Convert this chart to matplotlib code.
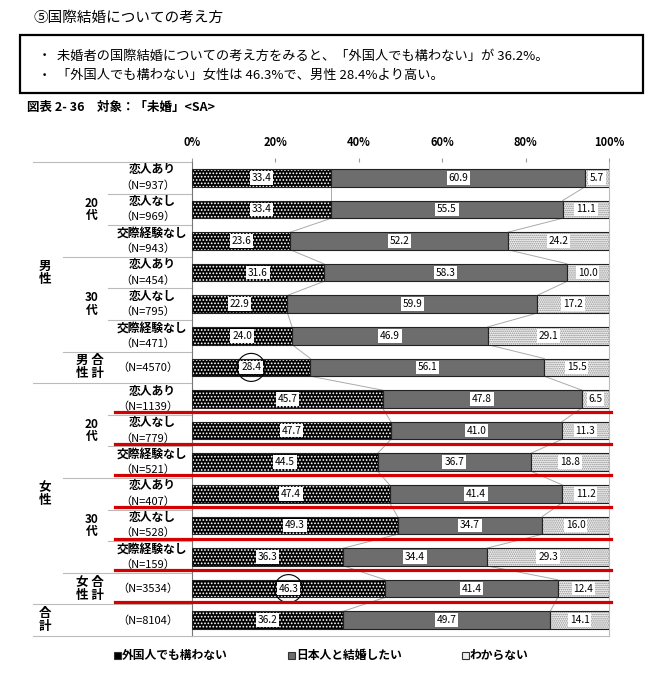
import numpy as np
import matplotlib
matplotlib.use("Agg")
import matplotlib.pyplot as plt
from matplotlib.patches import Rectangle, Ellipse

plt.rcParams['font.family'] = ['Noto Sans CJK JP', 'DejaVu Sans']
plt.rcParams['hatch.linewidth'] = 0.8

# data
series = ["外国人でも構わない", "日本人と結婚したい", "わからない"]
foreign_ok = [33.4, 33.4, 23.6, 31.6, 22.9, 24.0, 28.4, 45.7, 47.7, 44.5, 47.4, 49.3, 36.3, 46.3, 36.2]
japanese = [60.9, 55.5, 52.2, 58.3, 59.9, 46.9, 56.1, 47.8, 41.0, 36.7, 41.4, 34.7, 34.4, 41.4, 49.7]
unknown = [5.7, 11.1, 24.2, 10.0, 17.2, 29.1, 15.5, 6.5, 11.3, 18.8, 11.2, 16.0, 29.3, 12.4, 14.1]
row_names = ["恋人あり", "恋人なし", "交際経験なし", "恋人あり", "恋人なし", "交際経験なし", "",
             "恋人あり", "恋人なし", "交際経験なし", "恋人あり", "恋人なし", "交際経験なし", "", ""]
row_n = [937, 969, 943, 454, 795, 471, 4570, 1139, 779, 521, 407, 528, 159, 3534, 8104]
x_ticks = [0, 20, 40, 60, 80, 100]

W, H = 664, 693
fig = plt.figure(figsize=(W / 100, H / 100), dpi=100)

def fx(px):
    return px / W

def fy(py):
    return 1 - py / H

# axes: 0% at x=192px, 100% at x=609px, top 162px, bottom 636px
ax = fig.add_axes([fx(192), fy(636), fx(609) - fx(192), fy(162) - fy(636)])
n = len(foreign_ok)
y = np.arange(n)
h = 0.56

def dx(px):
    # pixel x -> data x
    return (px - 192) / 417 * 100

s1 = np.array(foreign_ok)
s2 = np.array(japanese)
s3 = np.array(unknown)

# segment 1: black with white dots
ax.barh(y, s1, height=h, color='black', edgecolor='white', hatch='.....', linewidth=0, zorder=2)
ax.barh(y, s1, height=h, fill=False, edgecolor='#222222', linewidth=0.8, zorder=3)
# segment 2: solid gray
ax.barh(y, s2, left=s1, height=h, color='#6d6d6d', edgecolor='#222222', linewidth=0.8, zorder=2)
# segment 3: light stipple
ax.barh(y, s3, left=s1 + s2, height=h, color='#f4f4f4', edgecolor='#8c8c8c', hatch='........',
        linewidth=0, zorder=2)
ax.barh(y, s3, left=s1 + s2, height=h, fill=False, edgecolor='#222222', linewidth=0.8, zorder=3)

# connector lines between bars
for i in range(n - 1):
    for c in (s1, s1 + s2):
        ax.plot([c[i], c[i + 1]], [y[i] + h / 2, y[i + 1] - h / 2], color='#aaaaaa', lw=0.7, zorder=1)

# value labels
box = dict(facecolor='white', edgecolor='none', pad=1.3)
for i in range(n):
    ax.text(s1[i] / 2, y[i], f"{s1[i]:.1f}", ha='center', va='center', fontsize=7.3, bbox=box, zorder=6)
    ax.text(s1[i] + s2[i] / 2, y[i], f"{s2[i]:.1f}", ha='center', va='center', fontsize=7.3, bbox=box, zorder=6)
    ax.text(s1[i] + s2[i] + s3[i] / 2, y[i], f"{s3[i]:.1f}", ha='center', va='center', fontsize=7.3,
            bbox=box, zorder=6)

# circles around the sex totals
for i in (6, 13):
    ax.add_patch(Ellipse((s1[i] / 2, y[i]), 28 / 4.17, 28 / 31.6, fill=False, edgecolor='black',
                         lw=0.8, zorder=7, clip_on=False))

ax.set_xlim(0, 100)
ax.set_ylim(14.5, -0.5)
ax.set_yticks([])
ax.xaxis.tick_top()
ax.set_xticks(x_ticks)
ax.set_xticklabels([f"{t}%" for t in x_ticks], fontsize=8, fontweight='bold')
ax.tick_params(axis='x', length=3, color='#999999', pad=6)
ax.spines['top'].set_visible(False)
ax.spines['left'].set_color('#777777')
ax.spines['right'].set_color('#bbbbbb')
ax.spines['bottom'].set_color('#bbbbbb')

# left table lines
seps = {-0.5: 33, 0.5: 108, 1.5: 108, 2.5: 63, 3.5: 108, 4.5: 108, 5.5: 63, 6.5: 33,
        7.5: 108, 8.5: 108, 9.5: 63, 10.5: 108, 11.5: 108, 12.5: 63, 13.5: 33, 14.5: 33}
for yy, start in seps.items():
    ax.plot([dx(start), 0], [yy, yy], color='#bbbbbb', lw=0.8, clip_on=False)

# row labels
for i in range(n):
    if row_names[i]:
        ax.text(dx(152), y[i] - 0.25, row_names[i], ha='center', va='center', fontsize=8.5,
                fontweight='bold', clip_on=False)
        ax.text(dx(148), y[i] + 0.24, f"（N={row_n[i]}）", ha='center', va='center', fontsize=8,
                clip_on=False)
    else:
        ax.text(dx(148), y[i], f"（N={row_n[i]}）", ha='center', va='center', fontsize=8, clip_on=False)

for r in (1, 4, 8, 11):
    ax.text(dx(92), r, ("20" if r in (1, 8) else "30") + "\n代", ha='center', va='center',
            fontsize=8.5, fontweight='bold', linespacing=0.95, clip_on=False)
ax.text(dx(90), 6, "男 合\n性 計", ha='center', va='center', fontsize=9, fontweight='bold',
        linespacing=1.0, clip_on=False)
ax.text(dx(90), 13, "女 合\n性 計", ha='center', va='center', fontsize=9, fontweight='bold',
        linespacing=1.0, clip_on=False)
ax.text(dx(45), 3, "男\n性", ha='center', va='center', fontsize=9, fontweight='bold',
        linespacing=1.0, clip_on=False)
ax.text(dx(45), 10, "女\n性", ha='center', va='center', fontsize=9, fontweight='bold',
        linespacing=1.0, clip_on=False)
ax.text(dx(45), 14, "合\n計", ha='center', va='center', fontsize=9, fontweight='bold',
        linespacing=1.0, clip_on=False)

# red underlines on female rows
for i in range(7, 14):
    ax.plot([dx(115), dx(611)], [y[i] + 0.42, y[i] + 0.42], color='#d40000', lw=2.3,
            clip_on=False, zorder=8)

# header
fig.text(fx(33), fy(18), "⑤国際結婚についての考え方", fontsize=10.5, va='center', ha='left')
fig.patches.append(Rectangle((fx(20), fy(93)), fx(643) - fx(20), fy(35) - fy(93),
                             transform=fig.transFigure, fill=False, edgecolor='black', lw=1.6))
fig.text(fx(38), fy(56), "・", fontsize=9.5, va='center')
fig.text(fx(38), fy(75), "・", fontsize=9.5, va='center')
fig.text(fx(57), fy(56), "未婚者の国際結婚についての考え方をみると、「外国人でも構わない」が 36.2%。",
         fontsize=9.5, va='center')
fig.text(fx(57), fy(75), "「外国人でも構わない」女性は 46.3%で、男性 28.4%より高い。", fontsize=9.5, va='center')
fig.text(fx(27), fy(107), "図表 2- 36　対象：「未婚」<SA>", fontsize=9, va='center', fontweight='bold')

# legend
leg_x = [122, 296, 470]
leg_face = ['black', '#6d6d6d', '#eeeeee']
for lx, lab, fc in zip(leg_x, series, leg_face):
    fig.patches.append(Rectangle((fx(lx - 8), fy(659)), fx(7), 7 / H, transform=fig.transFigure,
                                 facecolor=fc, edgecolor='#333333', lw=0.8))
    fig.text(fx(lx), fy(655), lab, fontsize=8.5, fontweight='bold', va='center', ha='left')

fig.savefig("out.png", dpi=100)
